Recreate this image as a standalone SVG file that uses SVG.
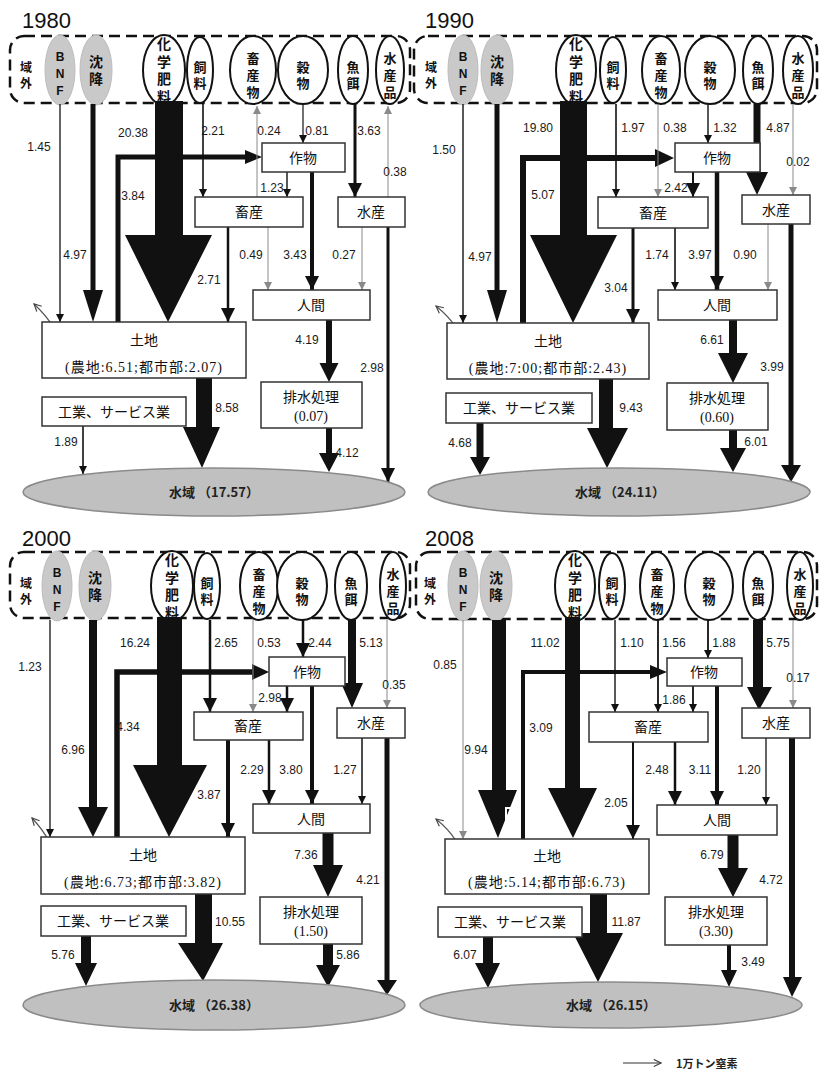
<svg xmlns="http://www.w3.org/2000/svg" width="819" height="1079" viewBox="0 0 819 1079">
<style>
.n{font-family:"Liberation Sans",Arial,sans-serif;font-size:12px;fill:#1a1a1a;text-anchor:middle}
.j{font-family:"Noto Sans CJK JP",sans-serif;font-size:14px;fill:#111;text-anchor:middle}
.v{font-family:"Noto Sans CJK JP",sans-serif;font-size:13px;font-weight:bold;fill:#111;text-anchor:middle;writing-mode:vertical-rl;text-orientation:upright;letter-spacing:3px}
.v3{letter-spacing:4px}
.vb{font-size:14px;letter-spacing:3.5px}
.vs{font-size:12px;letter-spacing:4px}
.lb{font-family:"Liberation Sans",Arial,sans-serif;font-size:12px;font-weight:bold;fill:#111;text-anchor:middle}
.p{font-family:"Liberation Serif","Noto Sans CJK JP",serif;font-size:14px;fill:#111;text-anchor:middle}
.pl{letter-spacing:1px}
.yr{font-family:"Liberation Sans",Arial,sans-serif;font-size:22px;fill:#111}
.sb{font-family:"Noto Sans CJK JP",sans-serif;font-size:13px;font-weight:bold;fill:#222;text-anchor:middle}
.box{fill:#fff;stroke:#333;stroke-width:1.5}
.src{fill:#fff;stroke:#111;stroke-width:2}
.gs{fill:#c9c9c9;stroke:#bdbdbd;stroke-width:1}
.dash{fill:none;stroke:#111;stroke-width:2.5;stroke-dasharray:11 6}
.sea{fill:#c0c0c0;stroke:#8a8a8a;stroke-width:1.5}
.k{stroke:#111;fill:none}
.g{stroke:#8a8a8a;fill:none;stroke-width:1}
.f{fill:#111}
.cv{fill:none;stroke:#555;stroke-width:1.2}
</style>
<defs>
<marker id="a" viewBox="0 0 10 10" refX="10" refY="5" markerWidth="10" markerHeight="8" markerUnits="userSpaceOnUse" orient="auto"><path d="M0,0L10,5L0,10z" fill="#111"/></marker>
<marker id="ag" viewBox="0 0 10 10" refX="10" refY="5" markerWidth="10" markerHeight="8" markerUnits="userSpaceOnUse" orient="auto"><path d="M0,0L10,5L0,10z" fill="#8a8a8a"/></marker>
<marker id="am" viewBox="0 0 10 10" refX="10" refY="5" markerWidth="15" markerHeight="14" markerUnits="userSpaceOnUse" orient="auto"><path d="M0,0L10,5L0,10z" fill="#111"/></marker>
<marker id="ao" viewBox="0 0 10 10" refX="9" refY="5" markerWidth="9" markerHeight="9" markerUnits="userSpaceOnUse" orient="auto"><path d="M1,1L9,5L1,9" fill="none" stroke="#444" stroke-width="1.3"/></marker>
</defs>
<rect width="819" height="1079" fill="#fff"/>

<!-- ===== 1980 ===== -->
<g id="p1980">
<text class="yr" x="22" y="28">1980</text>
<g id="ext1980"><rect class="dash" x="10" y="36" width="400" height="67" rx="14"/><text class="v vs" x="26" y="77">域外</text></g>
<g id="bnf1980"><ellipse class="gs" cx="60" cy="70" rx="15" ry="35"/><text class="lb"><tspan x="60" y="61">B</tspan><tspan x="60" y="78">N</tspan><tspan x="60" y="95">F</tspan></text></g>
<g id="dep1980"><ellipse class="gs" cx="96" cy="70" rx="16" ry="35"/><text class="v vb" x="96" y="72">沈降</text></g>
<g id="fert1980"><ellipse class="src" cx="164" cy="70" rx="21" ry="35"/><text class="v vb" x="164" y="72">化学肥料</text></g>
<g id="feed1980"><ellipse class="src" cx="200" cy="70" rx="13" ry="33"/><text class="v" x="200" y="77">飼料</text></g>
<g id="live1980"><ellipse class="src" cx="253" cy="70" rx="23" ry="34"/><text class="v v3" x="253" y="77">畜産物</text></g>
<g id="grain1980"><ellipse class="src" cx="303" cy="70" rx="25" ry="34"/><text class="v" x="303" y="77">穀物</text></g>
<g id="fish1980"><ellipse class="src" cx="353" cy="70" rx="15" ry="34"/><text class="v" x="353" y="77">魚餌</text></g>
<g id="aqp1980"><ellipse class="src" cx="390" cy="70" rx="14" ry="34"/><text class="v v3" x="390" y="77">水産品</text></g>

<g id="flows1980">
<line class="k" x1="60" y1="104" x2="60" y2="322" stroke-width="1.3" marker-end="url(#a)"/>
<polygon class="f" points="90.5,104 95.5,104 95.5,290 103,290 93,322 83,290 90.5,290"/>
<polygon class="f" points="155,101 183,101 183,235 212,235 168,322 125,235 155,235"/>
<path class="k" d="M118,322V157H247" stroke-width="5"/><polygon class="f" points="245,150 262,157 245,164"/>
<line class="k" x1="203" y1="104" x2="203" y2="197" stroke-width="1.6" marker-end="url(#a)"/>
<line class="g" x1="257" y1="197" x2="257" y2="106" marker-end="url(#ag)"/>
<line class="k" x1="303" y1="104" x2="303" y2="143" stroke-width="1.2" marker-end="url(#a)"/>
<line class="k" x1="355" y1="104" x2="355" y2="197" stroke-width="3" marker-end="url(#am)"/>
<line class="g" x1="388" y1="197" x2="388" y2="106" marker-end="url(#ag)"/>
<line class="k" x1="287" y1="172" x2="287" y2="197" stroke-width="1.4" marker-end="url(#a)"/>
<line class="k" x1="312" y1="172" x2="312" y2="290" stroke-width="4" marker-end="url(#am)"/>
<line class="k" x1="228" y1="227" x2="228" y2="322" stroke-width="2.5" marker-end="url(#am)"/>
<line class="g" x1="268" y1="227" x2="268" y2="290" marker-end="url(#ag)"/>
<line class="g" x1="362" y1="227" x2="362" y2="290" marker-end="url(#ag)"/>
<line class="k" x1="388" y1="227" x2="388" y2="482" stroke-width="3" marker-end="url(#am)"/>
<polygon class="f" points="326,320 332,320 332,363 338.5,363 329,382 319.5,363 326,363"/>
<polygon class="f" points="326,428 332,428 332,453 339,453 329,472 319,453 326,453"/>
<line class="k" x1="83" y1="426" x2="83" y2="474" stroke-width="1.6" marker-end="url(#a)"/>
<polygon class="f" points="196,378 212,378 212,427 220,427 202,468 183,427 196,427"/>
<path class="cv" d="M60,348C59,333 49,318 34,304" marker-end="url(#ao)"/>
<text class="n" x="39" y="151">1.45</text><text class="n" x="75" y="259">4.97</text><text class="n" x="133" y="137">20.38</text>
<text class="n" x="133" y="200">3.84</text><text class="n" x="213" y="135">2.21</text><text class="n" x="269" y="135">0.24</text>
<text class="n" x="317" y="135">0.81</text><text class="n" x="369" y="135">3.63</text><text class="n" x="395" y="176">0.38</text>
<text class="n" x="272" y="192">1.23</text><text class="n" x="295" y="259">3.43</text><text class="n" x="209" y="284">2.71</text>
<text class="n" x="251" y="259">0.49</text><text class="n" x="344" y="259">0.27</text><text class="n" x="372" y="372">2.98</text>
<text class="n" x="307" y="344">4.19</text><text class="n" x="347" y="457">4.12</text><text class="n" x="66" y="446">1.89</text>
<text class="n" x="227" y="412">8.58</text>
</g>

<g id="crop1980"><rect class="box" x="262" y="143" width="83" height="29"/><text class="j" x="303" y="163">作物</text></g>
<g id="lvs1980"><rect class="box" x="195" y="197" width="108" height="30"/><text class="j" x="249" y="217">畜産</text></g>
<g id="aq1980"><rect class="box" x="338" y="197" width="67" height="30"/><text class="j" x="371" y="217">水産</text></g>
<g id="hum1980"><rect class="box" x="253" y="290" width="117" height="30"/><text class="j" x="311" y="310">人間</text></g>
<g id="land1980"><rect class="box" x="42" y="322" width="204" height="56"/><text class="j" x="144" y="345">土地</text><text class="p pl" x="144" y="372">(農地:6.51;都市部:2.07)</text></g>
<g id="ww1980"><rect class="box" x="261" y="382" width="101" height="46"/><text class="j" x="311" y="402">排水処理</text><text class="p" x="311" y="421">(0.07)</text></g>
<g id="ind1980"><rect class="box" x="42" y="397" width="144" height="29"/><text class="j" x="114" y="417">工業、サービス業</text></g>
<g id="sea1980"><ellipse class="sea" cx="214" cy="492" rx="191" ry="24"/><text class="sb" x="214" y="497">水域 （17.57）</text></g>
</g>

<!-- ===== 1990 ===== -->
<g id="p1990">
<text class="yr" x="425" y="28">1990</text>
<g id="ext1990"><rect class="dash" x="414" y="36" width="403" height="67" rx="14"/><text class="v vs" x="431" y="77">域外</text></g>
<g id="bnf1990"><ellipse class="gs" cx="463" cy="70" rx="15" ry="35"/><text class="lb"><tspan x="463" y="61">B</tspan><tspan x="463" y="78">N</tspan><tspan x="463" y="95">F</tspan></text></g>
<g id="dep1990"><ellipse class="gs" cx="497" cy="70" rx="16" ry="35"/><text class="v vb" x="497" y="72">沈降</text></g>
<g id="fert1990"><ellipse class="src" cx="576" cy="70" rx="20" ry="35"/><text class="v vb" x="576" y="72">化学肥料</text></g>
<g id="feed1990"><ellipse class="src" cx="613" cy="70" rx="13" ry="33"/><text class="v" x="613" y="77">飼料</text></g>
<g id="live1990"><ellipse class="src" cx="661" cy="70" rx="19" ry="34"/><text class="v v3" x="661" y="77">畜産物</text></g>
<g id="grain1990"><ellipse class="src" cx="710" cy="70" rx="25" ry="34"/><text class="v" x="710" y="77">穀物</text></g>
<g id="fish1990"><ellipse class="src" cx="758" cy="70" rx="15" ry="34"/><text class="v" x="758" y="77">魚餌</text></g>
<g id="aqp1990"><ellipse class="src" cx="798" cy="70" rx="15" ry="34"/><text class="v v3" x="798" y="77">水産品</text></g>

<g id="flows1990">
<line class="k" x1="463" y1="104" x2="463" y2="323" stroke-width="1.4" marker-end="url(#a)"/>
<polygon class="f" points="494.5,104 499.5,104 499.5,290 507,290 497,323 487,290 494.5,290"/>
<polygon class="f" points="560,101 587,101 587,235 617,235 573,323 530,235 560,235"/>
<path class="k" d="M523,323V158H656" stroke-width="6"/><polygon class="f" points="655,149 674,158 655,167"/>
<line class="k" x1="616" y1="104" x2="616" y2="197" stroke-width="1.6" marker-end="url(#a)"/>
<line class="g" x1="658" y1="104" x2="658" y2="197" marker-end="url(#ag)"/>
<line class="k" x1="708" y1="104" x2="708" y2="143" stroke-width="1.4" marker-end="url(#a)"/>
<polygon class="f" points="753.5,104 760.5,104 760.5,172 768,172 757,195 746,172 753.5,172"/>
<line class="g" x1="793" y1="104" x2="793" y2="195" marker-end="url(#ag)"/>
<line class="k" x1="693" y1="172" x2="693" y2="197" stroke-width="2" marker-end="url(#am)"/>
<line class="k" x1="717" y1="172" x2="717" y2="290" stroke-width="4.5" marker-end="url(#am)"/>
<line class="k" x1="633" y1="228" x2="633" y2="323" stroke-width="3" marker-end="url(#am)"/>
<line class="k" x1="675" y1="228" x2="675" y2="290" stroke-width="1.6" marker-end="url(#a)"/>
<line class="g" x1="768" y1="224" x2="768" y2="290" marker-end="url(#ag)"/>
<polygon class="f" points="788.5,224 793.5,224 793.5,465 801,465 791,482 781,465 788.5,465"/>
<polygon class="f" points="729,320 737,320 737,353 748,353 733,383 718,353 729,353"/>
<polygon class="f" points="729,430 737,430 737,448 746,448 733,472 720,448 729,448"/>
<polygon class="f" points="476.5,423 483.5,423 483.5,457 490,457 480,475 470,457 476.5,457"/>
<polygon class="f" points="599,379 613,379 613,428 628,428 607,468 587,428 599,428"/>
<path class="cv" d="M463,348C462,333 452,319 436,306" marker-end="url(#ao)"/>
<text class="n" x="444" y="154">1.50</text><text class="n" x="480" y="261">4.97</text><text class="n" x="538" y="132">19.80</text>
<text class="n" x="543" y="199">5.07</text><text class="n" x="633" y="132">1.97</text><text class="n" x="675" y="132">0.38</text>
<text class="n" x="725" y="132">1.32</text><text class="n" x="778" y="132">4.87</text><text class="n" x="798" y="166">0.02</text>
<text class="n" x="676" y="192">2.42</text><text class="n" x="700" y="259">3.97</text><text class="n" x="616" y="292">3.04</text>
<text class="n" x="657" y="259">1.74</text><text class="n" x="745" y="259">0.90</text><text class="n" x="772" y="371">3.99</text>
<text class="n" x="712" y="344">6.61</text><text class="n" x="756" y="446">6.01</text><text class="n" x="460" y="447">4.68</text>
<text class="n" x="631" y="412">9.43</text>
</g>

<g id="crop1990"><rect class="box" x="675" y="143" width="85" height="29"/><text class="j" x="717" y="163">作物</text></g>
<g id="lvs1990"><rect class="box" x="598" y="197" width="110" height="31"/><text class="j" x="653" y="218">畜産</text></g>
<g id="aq1990"><rect class="box" x="742" y="195" width="68" height="29"/><text class="j" x="776" y="215">水産</text></g>
<g id="hum1990"><rect class="box" x="658" y="290" width="119" height="30"/><text class="j" x="717" y="310">人間</text></g>
<g id="land1990"><rect class="box" x="447" y="323" width="202" height="56"/><text class="j" x="548" y="346">土地</text><text class="p pl" x="548" y="373">(農地:7:00;都市部:2.43)</text></g>
<g id="ww1990"><rect class="box" x="667" y="383" width="101" height="47"/><text class="j" x="717" y="403">排水処理</text><text class="p" x="717" y="422">(0.60)</text></g>
<g id="ind1990"><rect class="box" x="446" y="393" width="146" height="30"/><text class="j" x="519" y="413">工業、サービス業</text></g>
<g id="sea1990"><ellipse class="sea" cx="619" cy="492" rx="191" ry="24"/><text class="sb" x="620" y="497">水域 （24.11）</text></g>
</g>

<!-- ===== 2000 ===== -->
<g id="p2000">
<text class="yr" x="22" y="546">2000</text>
<g id="ext2000"><rect class="dash" x="10" y="552" width="400" height="66" rx="14"/><text class="v vs" x="26" y="593">域外</text></g>
<g id="bnf2000"><ellipse class="gs" cx="57" cy="586" rx="15" ry="35"/><text class="lb"><tspan x="57" y="577">B</tspan><tspan x="57" y="594">N</tspan><tspan x="57" y="611">F</tspan></text></g>
<g id="dep2000"><ellipse class="gs" cx="95" cy="586" rx="16" ry="35"/><text class="v vb" x="95" y="588">沈降</text></g>
<g id="fert2000"><ellipse class="src" cx="172" cy="586" rx="21" ry="35"/><text class="v vb" x="172" y="588">化学肥料</text></g>
<g id="feed2000"><ellipse class="src" cx="207" cy="586" rx="13" ry="33"/><text class="v" x="207" y="593">飼料</text></g>
<g id="live2000"><ellipse class="src" cx="259" cy="586" rx="19" ry="34"/><text class="v v3" x="259" y="593">畜産物</text></g>
<g id="grain2000"><ellipse class="src" cx="302" cy="586" rx="25" ry="34"/><text class="v" x="302" y="593">穀物</text></g>
<g id="fish2000"><ellipse class="src" cx="351" cy="586" rx="16" ry="34"/><text class="v" x="351" y="593">魚餌</text></g>
<g id="aqp2000"><ellipse class="src" cx="393" cy="586" rx="13" ry="34"/><text class="v v3" x="393" y="593">水産品</text></g>

<g id="flows2000">
<line class="k" x1="50" y1="620" x2="50" y2="837" stroke-width="1.3" marker-end="url(#a)"/>
<polygon class="f" points="89,620 97,620 97,807 108,807 93,837 78,807 89,807"/>
<polygon class="f" points="157,617 182,617 182,765 207,765 169,837 133,765 157,765"/>
<path class="k" d="M117,837V672H252" stroke-width="5.5"/><polygon class="f" points="252,664 269,672 252,680"/>
<line class="k" x1="210" y1="620" x2="210" y2="712" stroke-width="2.5" marker-end="url(#am)"/>
<line class="g" x1="253" y1="620" x2="253" y2="712" marker-end="url(#ag)"/>
<line class="k" x1="303" y1="620" x2="303" y2="657" stroke-width="2.5" marker-end="url(#am)"/>
<polygon class="f" points="348,620 356,620 356,683 363,683 352,708 341,683 348,683"/>
<line class="g" x1="387" y1="620" x2="387" y2="708" marker-end="url(#ag)"/>
<line class="k" x1="287" y1="686" x2="287" y2="712" stroke-width="2.5" marker-end="url(#am)"/>
<line class="k" x1="312" y1="686" x2="312" y2="804" stroke-width="4" marker-end="url(#am)"/>
<line class="k" x1="228" y1="740" x2="228" y2="837" stroke-width="4" marker-end="url(#am)"/>
<line class="k" x1="269" y1="740" x2="269" y2="804" stroke-width="2.5" marker-end="url(#am)"/>
<line class="k" x1="362" y1="738" x2="362" y2="804" stroke-width="1.5" marker-end="url(#a)"/>
<polygon class="f" points="384.5,738 389.5,738 389.5,980 397,980 387,995 377,980 384.5,980"/>
<polygon class="f" points="322.5,833 333.5,833 333.5,865 343,865 328,897 313,865 322.5,865"/>
<polygon class="f" points="323,944 333,944 333,965 340,965 328,987 316,965 323,965"/>
<polygon class="f" points="81,936 91,936 91,963 97,963 86,986 75,963 81,963"/>
<polygon class="f" points="195,894 212,894 212,943 223,943 203,981 178,943 195,943"/>
<path class="cv" d="M55,862C54,847 45,832 32,818" marker-end="url(#ao)"/>
<text class="n" x="30" y="671">1.23</text><text class="n" x="73" y="754">6.96</text><text class="n" x="135" y="647">16.24</text>
<text class="n" x="128" y="731">4.34</text><text class="n" x="226" y="647">2.65</text><text class="n" x="269" y="647">0.53</text>
<text class="n" x="320" y="647">2.44</text><text class="n" x="371" y="647">5.13</text><text class="n" x="394" y="689">0.35</text>
<text class="n" x="270" y="702">2.98</text><text class="n" x="291" y="774">3.80</text><text class="n" x="209" y="799">3.87</text>
<text class="n" x="252" y="774">2.29</text><text class="n" x="345" y="774">1.27</text><text class="n" x="368" y="884">4.21</text>
<text class="n" x="306" y="859">7.36</text><text class="n" x="348" y="959">5.86</text><text class="n" x="63" y="959">5.76</text>
<text class="n" x="230" y="926">10.55</text>
</g>

<g id="crop2000"><rect class="box" x="269" y="657" width="76" height="29"/><text class="j" x="307" y="677">作物</text></g>
<g id="lvs2000"><rect class="box" x="194" y="712" width="109" height="28"/><text class="j" x="248" y="731">畜産</text></g>
<g id="aq2000"><rect class="box" x="337" y="708" width="68" height="30"/><text class="j" x="371" y="728">水産</text></g>
<g id="hum2000"><rect class="box" x="253" y="804" width="117" height="29"/><text class="j" x="311" y="824">人間</text></g>
<g id="land2000"><rect class="box" x="41" y="837" width="204" height="57"/><text class="j" x="143" y="860">土地</text><text class="p pl" x="143" y="887">(農地:6.73;都市部:3.82)</text></g>
<g id="ww2000"><rect class="box" x="260" y="897" width="102" height="47"/><text class="j" x="311" y="917">排水処理</text><text class="p" x="311" y="936">(1.50)</text></g>
<g id="ind2000"><rect class="box" x="41" y="906" width="145" height="30"/><text class="j" x="113" y="926">工業、サービス業</text></g>
<g id="sea2000"><ellipse class="sea" cx="214" cy="1005" rx="191" ry="25"/><text class="sb" x="214" y="1010">水域 （26.38）</text></g>
</g>

<!-- ===== 2008 ===== -->
<g id="p2008">
<text class="yr" x="425" y="546">2008</text>
<g id="ext2008"><rect class="dash" x="416" y="552" width="401" height="67" rx="14"/><text class="v vs" x="430" y="593">域外</text></g>
<g id="bnf2008"><ellipse class="gs" cx="463" cy="586" rx="15" ry="35"/><text class="lb"><tspan x="463" y="577">B</tspan><tspan x="463" y="594">N</tspan><tspan x="463" y="611">F</tspan></text></g>
<g id="dep2008"><ellipse class="gs" cx="496" cy="586" rx="16" ry="35"/><text class="v vb" x="496" y="588">沈降</text></g>
<g id="fert2008"><ellipse class="src" cx="575" cy="586" rx="20" ry="35"/><text class="v vb" x="575" y="588">化学肥料</text></g>
<g id="feed2008"><ellipse class="src" cx="612" cy="586" rx="13" ry="33"/><text class="v" x="612" y="593">飼料</text></g>
<g id="live2008"><ellipse class="src" cx="657" cy="586" rx="17" ry="34"/><text class="v v3" x="657" y="593">畜産物</text></g>
<g id="grain2008"><ellipse class="src" cx="709" cy="586" rx="24" ry="34"/><text class="v" x="709" y="593">穀物</text></g>
<g id="fish2008"><ellipse class="src" cx="758" cy="586" rx="15" ry="34"/><text class="v" x="758" y="593">魚餌</text></g>
<g id="aqp2008"><ellipse class="src" cx="800" cy="586" rx="13" ry="34"/><text class="v v3" x="800" y="593">水産品</text></g>

<g id="flows2008">
<line class="g" x1="463" y1="620" x2="463" y2="839" marker-end="url(#ag)"/>
<polygon class="f" points="492,620 506,620 506,790 517,790 498,838 478,790 492,790"/>
<polygon class="f" points="565,617 580,617 580,788 597,788 573,838 548,788 565,788"/>
<path class="k" d="M523,839V672H651" stroke-width="4"/><polygon class="f" points="650,665 667,672 650,679"/>
<path d="M506,836V808H515" fill="none" stroke="#fff" stroke-width="2"/>
<line class="k" x1="615" y1="620" x2="615" y2="712" stroke-width="1.4" marker-end="url(#a)"/>
<line class="k" x1="658" y1="620" x2="658" y2="712" stroke-width="1.8" marker-end="url(#a)"/>
<line class="k" x1="708" y1="620" x2="708" y2="658" stroke-width="1.8" marker-end="url(#a)"/>
<polygon class="f" points="753,620 763,620 763,687 772,687 759,710 747,687 753,687"/>
<line class="g" x1="793" y1="620" x2="793" y2="708" marker-end="url(#ag)"/>
<line class="k" x1="693" y1="686" x2="693" y2="712" stroke-width="1.8" marker-end="url(#a)"/>
<line class="k" x1="717" y1="686" x2="717" y2="805" stroke-width="4" marker-end="url(#am)"/>
<line class="k" x1="633" y1="742" x2="633" y2="839" stroke-width="2" marker-end="url(#am)"/>
<line class="k" x1="675" y1="742" x2="675" y2="805" stroke-width="2.5" marker-end="url(#am)"/>
<line class="k" x1="766" y1="738" x2="766" y2="805" stroke-width="1.3" marker-end="url(#a)"/>
<polygon class="f" points="789,738 795,738 795,977 802,977 792,997 783,977 789,977"/>
<polygon class="f" points="727.5,835 738.5,835 738.5,868 748,868 733,897 718,868 727.5,868"/>
<polygon class="f" points="727,945 731,945 731,970 737,970 729,987 721,970 727,970"/>
<polygon class="f" points="483,937 493,937 493,963 500,963 488,988 475,963 483,963"/>
<polygon class="f" points="590,894 607,894 607,933 623,933 598,982 573,933 590,933"/>
<path class="cv" d="M463,862C462,847 452,832 436,819" marker-end="url(#ao)"/>
<text class="n" x="445" y="669">0.85</text><text class="n" x="476" y="754">9.94</text><text class="n" x="545" y="647">11.02</text>
<text class="n" x="541" y="732">3.09</text><text class="n" x="632" y="647">1.10</text><text class="n" x="674" y="647">1.56</text>
<text class="n" x="724" y="647">1.88</text><text class="n" x="778" y="647">5.75</text><text class="n" x="798" y="682">0.17</text>
<text class="n" x="674" y="704">1.86</text><text class="n" x="700" y="774">3.11</text><text class="n" x="616" y="807">2.05</text>
<text class="n" x="657" y="774">2.48</text><text class="n" x="749" y="774">1.20</text><text class="n" x="771" y="884">4.72</text>
<text class="n" x="712" y="859">6.79</text><text class="n" x="753" y="966">3.49</text><text class="n" x="465" y="959">6.07</text>
<text class="n" x="626" y="926">11.87</text>
</g>

<g id="crop2008"><rect class="box" x="667" y="658" width="75" height="28"/><text class="j" x="704" y="677">作物</text></g>
<g id="lvs2008"><rect class="box" x="589" y="712" width="119" height="30"/><text class="j" x="648" y="732">畜産</text></g>
<g id="aq2008"><rect class="box" x="742" y="708" width="68" height="30"/><text class="j" x="776" y="728">水産</text></g>
<g id="hum2008"><rect class="box" x="657" y="805" width="120" height="30"/><text class="j" x="717" y="825">人間</text></g>
<g id="land2008"><rect class="box" x="445" y="839" width="204" height="55"/><text class="j" x="547" y="861">土地</text><text class="p pl" x="547" y="887">(農地:5.14;都市部:6.73)</text></g>
<g id="ww2008"><rect class="box" x="665" y="897" width="102" height="48"/><text class="j" x="716" y="917">排水処理</text><text class="p" x="716" y="936">(3.30)</text></g>
<g id="ind2008"><rect class="box" x="438" y="907" width="144" height="30"/><text class="j" x="510" y="927">工業、サービス業</text></g>
<g id="sea2008"><ellipse class="sea" cx="611" cy="1005" rx="191" ry="23"/><text class="sb" x="611" y="1010">水域 （26.15）</text></g>
</g>

<g id="legend">
<line x1="623" y1="1063" x2="661" y2="1063" stroke="#333" stroke-width="1.2" marker-end="url(#ao)"/>
<text x="676" y="1068" font-family="Noto Sans CJK JP,sans-serif" font-size="11" font-weight="bold" fill="#222">1万トン窒素</text>
</g>
</svg>
